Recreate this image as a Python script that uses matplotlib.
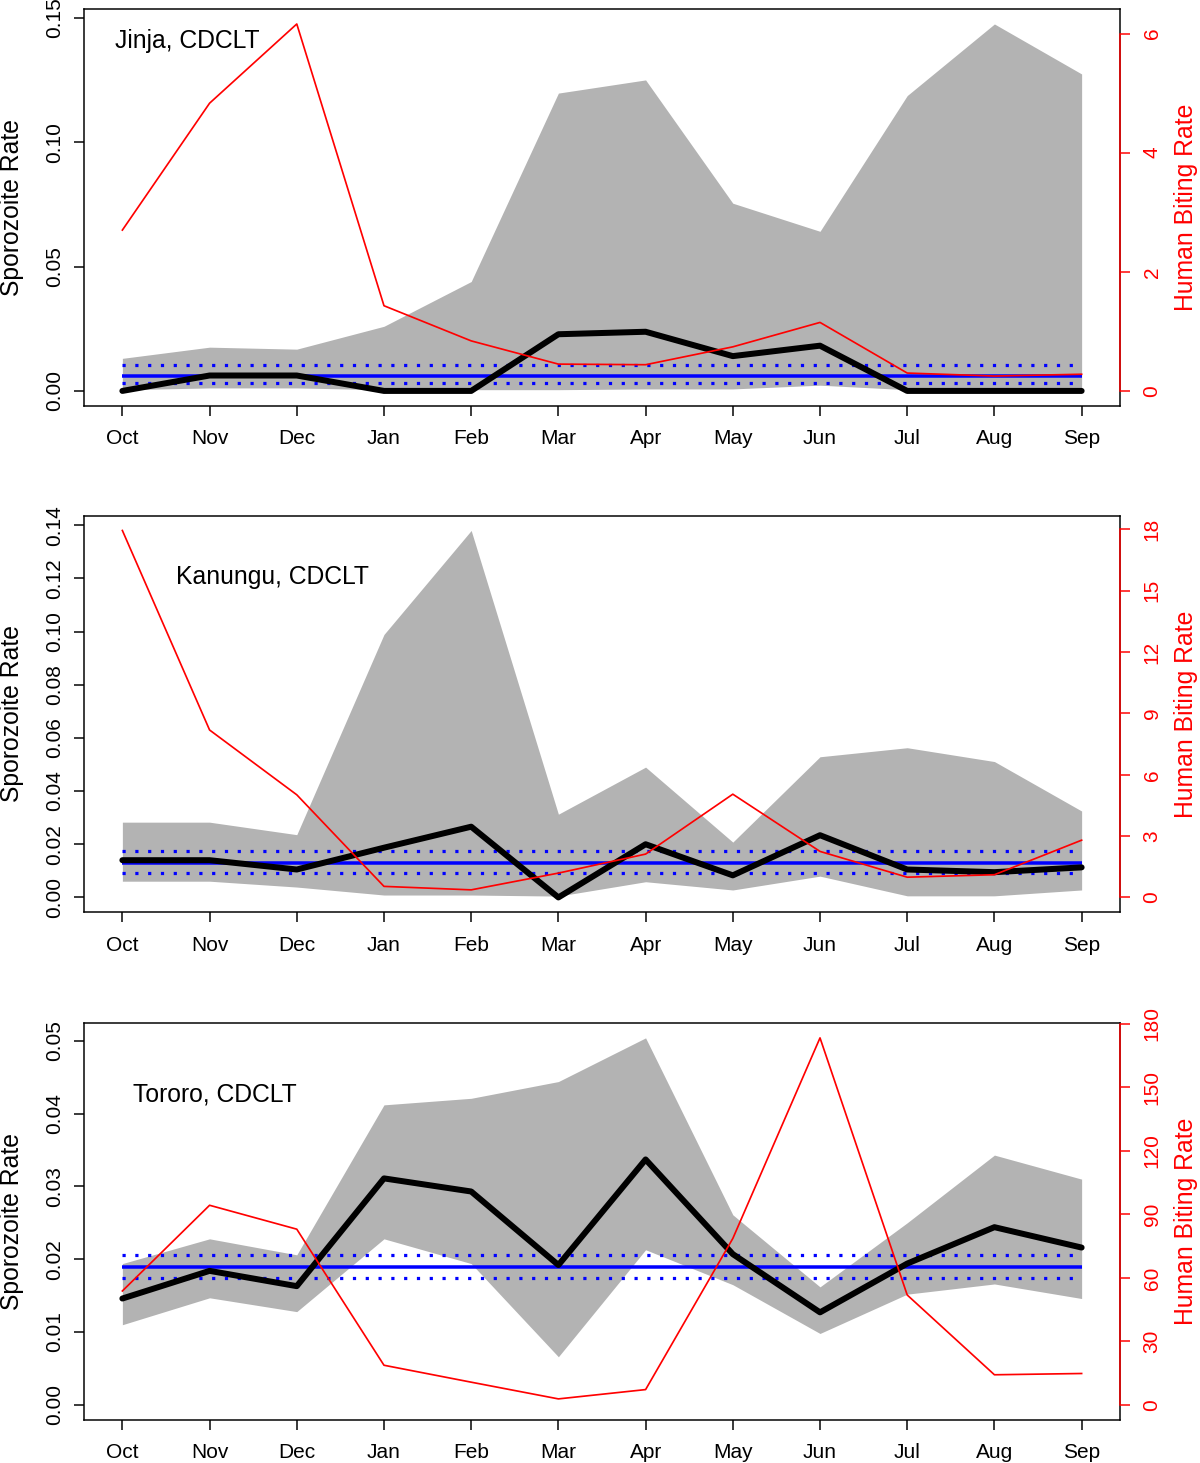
import matplotlib
matplotlib.use("Agg")
import matplotlib.pyplot as plt
import numpy as np

plt.rcParams['font.family'] = ['Liberation Sans', 'DejaVu Sans']

months = ["Oct", "Nov", "Dec", "Jan", "Feb", "Mar", "Apr", "May", "Jun", "Jul", "Aug", "Sep"]

# ---- Jinja ----
jinja_title = "Jinja, CDCLT"
jinja_median = [0.0, 0.0062, 0.0062, 0.0, 0.0, 0.0228, 0.0238, 0.0140, 0.0182, 0.0, 0.0, 0.0]
jinja_upper = [0.0131, 0.0176, 0.0168, 0.0260, 0.0440, 0.1198, 0.1251, 0.0755, 0.0642, 0.1188, 0.1476, 0.1275]
jinja_lower = [0.0005, 0.0012, 0.0012, 0.0005, 0.0005, 0.0005, 0.0008, 0.0008, 0.0023, 0.0005, 0.0005, 0.0005]
jinja_mean = 0.0059
jinja_mean_ci = [0.0030, 0.0106]
jinja_hbr = [2.70, 4.83, 6.16, 1.43, 0.84, 0.45, 0.44, 0.74, 1.15, 0.30, 0.25, 0.28]
jinja_sr_ticks = [0.00, 0.05, 0.10, 0.15]
jinja_hbr_ticks = [0, 2, 4, 6]

# ---- Kanungu ----
kanungu_title = "Kanungu, CDCLT"
kanungu_median = [0.0140, 0.0140, 0.0105, 0.0187, 0.0266, 0.0, 0.0200, 0.0083, 0.0234, 0.0105, 0.0095, 0.0113]
kanungu_upper = [0.0283, 0.0283, 0.0236, 0.0989, 0.1380, 0.0313, 0.0490, 0.0208, 0.0529, 0.0563, 0.0511, 0.0325]
kanungu_lower = [0.0061, 0.0061, 0.0039, 0.0009, 0.0009, 0.0005, 0.0059, 0.0028, 0.0080, 0.0006, 0.0006, 0.0028]
kanungu_mean = 0.0129
kanungu_mean_ci = [0.0091, 0.0174]
kanungu_hbr = [17.95, 8.19, 5.02, 0.54, 0.37, 1.19, 2.12, 5.05, 2.25, 0.99, 1.11, 2.80]
kanungu_sr_ticks = [0.00, 0.02, 0.04, 0.06, 0.08, 0.10, 0.12, 0.14]
kanungu_hbr_ticks = [0, 3, 6, 9, 12, 15, 18]

# ---- Tororo ----
tororo_title = "Tororo, CDCLT"
tororo_median = [0.0146, 0.0184, 0.0163, 0.0311, 0.0293, 0.0192, 0.0337, 0.0207, 0.0127, 0.0194, 0.0244, 0.0216]
tororo_upper = [0.0194, 0.0228, 0.0206, 0.0412, 0.0421, 0.0444, 0.0504, 0.0261, 0.0162, 0.0250, 0.0343, 0.0310]
tororo_lower = [0.0110, 0.0147, 0.0128, 0.0228, 0.0194, 0.0066, 0.0213, 0.0165, 0.0098, 0.0152, 0.0166, 0.0146]
tororo_mean = 0.0189
tororo_mean_ci = [0.0174, 0.0206]
tororo_hbr = [53.8, 94.3, 83.0, 18.7, 10.7, 2.8, 7.2, 78.6, 173.4, 51.9, 14.2, 14.8]
tororo_sr_ticks = [0.00, 0.01, 0.02, 0.03, 0.04, 0.05]
tororo_hbr_ticks = [0, 30, 60, 90, 120, 150, 180]

W, H = 1200, 1463
DPI = 100
fig = plt.figure(figsize=(W / DPI, H / DPI), dpi=DPI)

GRAY = "#B3B3B3"
RED = "#FF0000"
BLUE = "#0000FF"
PX = 0.72  # points per pixel


def r_lim(vmax):
    ext = 0.04 * vmax
    return (-ext, vmax + ext)


def panel(top_px, title, title_xy, median, lower, upper, mean, mean_ci, hbr,
          sr_ticks, hbr_ticks):
    left_px, right_px = 84, 1120
    height_px = 396.3
    rect = [left_px / W, (H - top_px - height_px) / H,
            (right_px - left_px) / W, height_px / H]
    ax = fig.add_axes(rect)
    x = np.arange(len(months))
    ax.fill_between(x, lower, upper, color=GRAY, linewidth=0, zorder=1)
    ax.plot([x[0], x[-1]], [mean, mean], color=BLUE, lw=3.5 * PX,
            solid_capstyle='butt', zorder=2)
    for v in mean_ci:
        ax.plot([x[0], x[-1]], [v, v], color=BLUE, lw=3.2 * PX,
                linestyle=(0, (1, 3.0)), dash_capstyle='butt', zorder=2)
    ax.plot(x, median, color='black', lw=6 * PX, solid_joinstyle='round',
            solid_capstyle='round', zorder=3)
    ax.set_xlim(-0.44, len(months) - 1 + 0.44)
    ax.set_ylim(*r_lim(max(max(upper), max(median))))
    ax.set_xticks(x)
    ax.set_xticklabels(months)
    ax.set_yticks(sr_ticks)
    ax.set_yticklabels(["%.2f" % t for t in sr_ticks], rotation=90, va='center')
    ax.tick_params(axis='both', direction='out', length=10 * PX, width=1.5 * PX,
                   labelsize=15, color='black')
    ax.tick_params(axis='x', pad=10)
    ax.tick_params(axis='y', pad=7)
    for s in ax.spines.values():
        s.set_linewidth(1.5 * PX)
    ax.text(title_xy[0], title_xy[1], title, transform=ax.transAxes,
            fontsize=17.8, ha='left', va='center', zorder=5)

    ax2 = ax.twinx()
    ax2.plot(x, hbr, color=RED, lw=1.7 * PX, zorder=4)
    ax2.set_ylim(*r_lim(max(hbr)))
    ax2.set_yticks(hbr_ticks)
    ax2.set_yticklabels([str(t) for t in hbr_ticks], rotation=90, va='center')
    ax2.tick_params(axis='y', direction='out', length=10 * PX, width=1.5 * PX,
                    labelsize=15, colors=RED, pad=9)
    for k, s in ax2.spines.items():
        s.set_visible(k == 'right')
    ax2.spines['right'].set_color(RED)
    ax2.spines['right'].set_linewidth(1.5 * PX)
    ax2.spines['right'].set_bounds(hbr_ticks[0], hbr_ticks[-1])

    cy = 1 - (top_px + height_px / 2) / H
    fig.text(12.5 / W, cy, "Sporozoite Rate", rotation=90, ha='center', va='center',
             fontsize=17.8)
    fig.text(1186 / W, cy, "Human Biting Rate", rotation=90, ha='center', va='center',
             fontsize=17.8, color=RED)


panel(9.3, jinja_title, (0.030, 0.919), jinja_median, jinja_lower, jinja_upper,
      jinja_mean, jinja_mean_ci, jinja_hbr, jinja_sr_ticks, jinja_hbr_ticks)
panel(515.8, kanungu_title, (0.089, 0.846), kanungu_median, kanungu_lower, kanungu_upper,
      kanungu_mean, kanungu_mean_ci, kanungu_hbr, kanungu_sr_ticks, kanungu_hbr_ticks)
panel(1023.2, tororo_title, (0.047, 0.821), tororo_median, tororo_lower, tororo_upper,
      tororo_mean, tororo_mean_ci, tororo_hbr, tororo_sr_ticks, tororo_hbr_ticks)

fig.savefig("out.png", dpi=DPI)
